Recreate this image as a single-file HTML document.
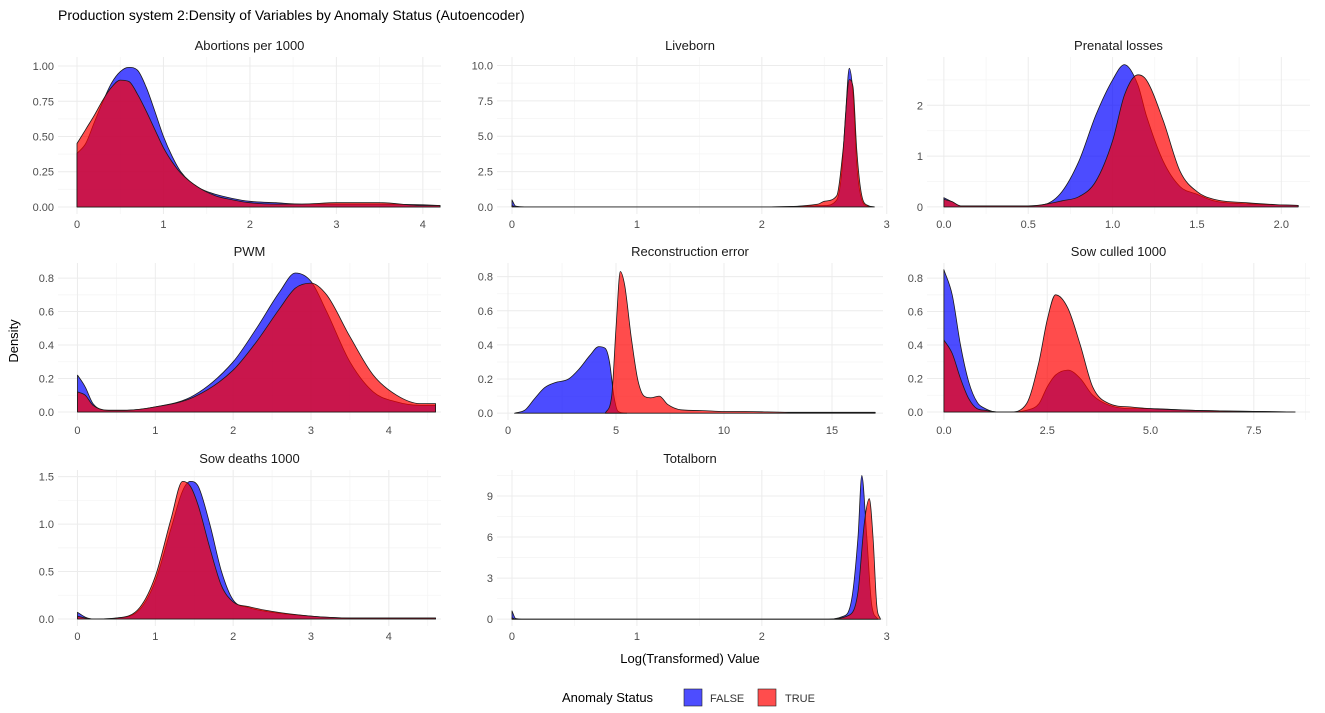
<!DOCTYPE html>
<html><head><meta charset="utf-8">
<style>
html,body{margin:0;padding:0;background:#fff;}
svg{display:block;font-family:"Liberation Sans",Arial,sans-serif;}
.tick{font-size:11px;fill:#4d4d4d;}
.strip{font-size:13px;fill:#1a1a1a;}
</style></head>
<body>
<svg id="chart" width="1325" height="713" viewBox="0 0 1325 713">
<text x="58" y="20" font-size="14" fill="#000">Production system 2:Density of Variables by Anomaly Status (Autoencoder)</text>
<text transform="translate(18,341) rotate(-90)" text-anchor="middle" font-size="13" fill="#000">Density</text>
<text x="690" y="663" text-anchor="middle" font-size="13" fill="#000">Log(Transformed) Value</text>
<g>
<text x="562" y="702" font-size="13" fill="#000">Anomaly Status</text>
<rect x="684" y="689" width="18" height="17" fill="rgb(77,77,255)" stroke="#222" stroke-width="0.6"/>
<text x="710" y="702" font-size="11" fill="#333">FALSE</text>
<rect x="758" y="689" width="18" height="17" fill="rgb(255,77,77)" stroke="#222" stroke-width="0.6"/>
<text x="785" y="702" font-size="11" fill="#333">TRUE</text>
</g>
<g id="panels"></g>
</svg>
<script>
// ---- data ----
const panelTitles = ["Abortions per 1000","Liveborn","Prenatal losses","PWM","Reconstruction error","Sow culled 1000","Sow deaths 1000","Totalborn"];

const abortX = [0,0.1,0.2,0.3,0.4,0.5,0.6,0.7,0.8,0.9,1.0,1.1,1.2,1.4,1.6,1.8,2.0,2.3,2.6,3.0,3.5,4.0,4.2];
const abortFalse = [0.38,0.45,0.6,0.75,0.88,0.96,0.99,0.97,0.85,0.68,0.5,0.36,0.25,0.14,0.09,0.06,0.04,0.03,0.02,0.02,0.02,0.015,0.01];
const abortTrue = [0.45,0.55,0.65,0.76,0.85,0.9,0.89,0.8,0.68,0.55,0.42,0.32,0.24,0.14,0.08,0.05,0.03,0.02,0.02,0.03,0.03,0.01,0.01];

const liveXF = [0,0.03,0.1,2.0,2.5,2.6,2.64,2.67,2.7,2.73,2.76,2.8,2.85,2.9];
const liveFalse = [0.5,0.05,0,0,0.1,0.5,2.5,6.5,9.8,8,3,0.5,0.05,0];
const liveXT = [0,0.03,0.1,2.0,2.45,2.5,2.6,2.65,2.7,2.73,2.76,2.8,2.85,2.9];
const liveTrue = [0.1,0,0,0,0.2,0.4,0.8,4,9,8.5,4,0.8,0.1,0];

const prenX = [0,0.05,0.1,0.5,0.6,0.7,0.8,0.9,1.0,1.07,1.15,1.2,1.3,1.4,1.5,1.6,1.8,2.0,2.1];
const prenFalse = [0.18,0.1,0.02,0.02,0.05,0.3,0.9,1.8,2.5,2.8,2.4,1.8,0.9,0.4,0.25,0.12,0.06,0.04,0.03];
const prenTrue = [0.15,0.1,0.02,0.02,0.05,0.12,0.2,0.5,1.3,2.2,2.6,2.5,1.7,0.7,0.3,0.15,0.08,0.04,0.03];

const pwmX = [0,0.1,0.2,0.4,0.6,1,1.5,2,2.3,2.6,2.8,3,3.2,3.5,3.8,4.1,4.4,4.6];
const pwmFalse = [0.22,0.15,0.05,0.01,0.01,0.03,0.1,0.3,0.5,0.72,0.83,0.78,0.6,0.3,0.12,0.06,0.04,0.04];
const pwmTrue = [0.12,0.1,0.04,0.01,0.01,0.03,0.09,0.25,0.42,0.62,0.74,0.77,0.7,0.45,0.22,0.1,0.05,0.05];

const recXF = [0.3,0.8,1.2,1.7,2.2,2.8,3.3,3.8,4.2,4.5,4.7,4.9,5.1,5.5];
const recFalse = [0,0.02,0.08,0.15,0.18,0.2,0.26,0.34,0.39,0.38,0.3,0.1,0.01,0];
const recXT = [4.5,4.8,5.0,5.2,5.4,5.7,6.0,6.3,6.6,7.0,7.4,8,9,10,11,13,15,17];
const recTrue = [0,0.1,0.5,0.83,0.75,0.45,0.2,0.1,0.09,0.1,0.05,0.02,0.015,0.01,0.01,0.005,0.005,0.005];

const culX = [0,0.2,0.4,0.6,0.8,1.0,1.3,1.6,2,2.3,2.5,2.7,3.0,3.3,3.6,4,4.5,5,6,7,8.5];
const culFalse = [0.85,0.7,0.4,0.18,0.06,0.02,0,0,0.01,0.05,0.15,0.22,0.25,0.2,0.1,0.04,0.02,0.02,0.01,0.005,0];
const culTrue = [0.43,0.35,0.2,0.08,0.02,0.01,0,0,0.05,0.3,0.55,0.7,0.62,0.4,0.15,0.05,0.03,0.02,0.01,0.005,0];

const deathX = [0,0.1,0.2,0.5,0.8,1.0,1.2,1.35,1.45,1.55,1.7,1.85,2.0,2.2,2.5,3,3.5,4,4.6];
const deathFalse = [0.07,0.02,0,0.01,0.1,0.4,0.95,1.35,1.45,1.4,1.0,0.5,0.2,0.12,0.07,0.03,0.01,0.01,0.01];
const deathTrue = [0.03,0.01,0,0.01,0.12,0.45,1.05,1.45,1.4,1.2,0.75,0.35,0.18,0.13,0.08,0.03,0.01,0.01,0.01];

const totXF = [0,0.03,0.1,2.5,2.65,2.72,2.77,2.8,2.84,2.88,2.93];
const totFalse = [0.6,0.05,0,0,0.2,1.5,6,10.5,6,1,0];
const totXT = [0,0.03,0.1,2.5,2.7,2.77,2.82,2.86,2.89,2.92,2.95];
const totTrue = [0.1,0,0,0,0.3,2,7,8.8,6,1,0];

const xTicksList = [[0,1,2,3,4],[0,1,2,3],[0,0.5,1,1.5,2],[0,1,2,3,4],[0,5,10,15],[0,2.5,5,7.5],[0,1,2,3,4],[0,1,2,3]];
const xTickLabels = [["0","1","2","3","4"],["0","1","2","3"],["0.0","0.5","1.0","1.5","2.0"],["0","1","2","3","4"],["0","5","10","15"],["0.0","2.5","5.0","7.5"],["0","1","2","3","4"],["0","1","2","3"]];
const yTicksList = [[0,0.25,0.5,0.75,1],[0,2.5,5,7.5,10],[0,1,2],[0,0.2,0.4,0.6,0.8],[0,0.2,0.4,0.6,0.8],[0,0.2,0.4,0.6,0.8],[0,0.5,1,1.5],[0,3,6,9]];
const yTickLabels = [["0.00","0.25","0.50","0.75","1.00"],["0.0","2.5","5.0","7.5","10.0"],["0","1","2"],["0.0","0.2","0.4","0.6","0.8"],["0.0","0.2","0.4","0.6","0.8"],["0.0","0.2","0.4","0.6","0.8"],["0.0","0.5","1.0","1.5"],["0","3","6","9"]];

// ---- layout (not data) ----
const cols=[[58,441],[497,883],[927,1310]];
const rows=[[57,214],[263,420],[470,626]];
const xDom=[[-0.22,4.21],[-0.12,2.97],[-0.1,2.17],[-0.25,4.67],[-0.51,17.36],[-0.41,8.86],[-0.25,4.67],[-0.12,2.97]];
const yDom=[[-0.05,1.064],[-0.5,10.6],[-0.14,2.95],[-0.048,0.89],[-0.04,0.88],[-0.048,0.89],[-0.074,1.57],[-0.5,10.9]];
const series=[
 [[abortX,abortFalse],[abortX,abortTrue]],
 [[liveXF,liveFalse],[liveXT,liveTrue]],
 [[prenX,prenFalse],[prenX,prenTrue]],
 [[pwmX,pwmFalse],[pwmX,pwmTrue]],
 [[recXF,recFalse],[recXT,recTrue]],
 [[culX,culFalse],[culX,culTrue]],
 [[deathX,deathFalse],[deathX,deathTrue]],
 [[totXF,totFalse],[totXT,totTrue]]
];
const NS="http://www.w3.org/2000/svg";
const root=document.getElementById('panels');
function mk(tag,attrs,parent){const e=document.createElementNS(NS,tag);for(const k in attrs)e.setAttribute(k,attrs[k]);parent.appendChild(e);return e;}
function slug(s){return s.toLowerCase().replace(/[^a-z0-9]+/g,'-').replace(/-$/,'');}
// monotone cubic interpolation path through pixel points
function smoothPath(pts){
  const n=pts.length; if(n<2) return '';
  const dx=[],m=[],t=[];
  for(let i=0;i<n-1;i++){dx[i]=pts[i+1][0]-pts[i][0]; m[i]=dx[i]===0?0:(pts[i+1][1]-pts[i][1])/dx[i];}
  t[0]=m[0]; t[n-1]=m[n-2];
  for(let i=1;i<n-1;i++){ t[i]=(m[i-1]*m[i]<=0)?0:(m[i-1]+m[i])/2; }
  for(let i=0;i<n-1;i++){ if(m[i]===0){t[i]=0;t[i+1]=0;continue;}
    const a=t[i]/m[i], b=t[i+1]/m[i], s=a*a+b*b;
    if(s>9){const tau=3/Math.sqrt(s); t[i]=tau*a*m[i]; t[i+1]=tau*b*m[i];} }
  let d='';
  for(let i=0;i<n-1;i++){const h=dx[i]/3;
    d+=' C'+(pts[i][0]+h).toFixed(1)+','+(pts[i][1]+t[i]*h).toFixed(1)+' '+(pts[i+1][0]-h).toFixed(1)+','+(pts[i+1][1]-t[i+1]*h).toFixed(1)+' '+pts[i+1][0].toFixed(1)+','+pts[i+1][1].toFixed(1);}
  return d;
}

panelTitles.forEach((title,i)=>{
  const c=cols[i%3], r=rows[Math.floor(i/3)];
  const sx=v=>c[0]+(v-xDom[i][0])/(xDom[i][1]-xDom[i][0])*(c[1]-c[0]);
  const sy=v=>r[1]-(v-yDom[i][0])/(yDom[i][1]-yDom[i][0])*(r[1]-r[0]);
  const g=mk('g',{},root);
  
  
  const xt=xTicksList[i], yt=yTicksList[i];
  const xs=xt[1]-xt[0], ys=yt[1]-yt[0];
  for(let v=xt[0]-xs/2; v<=xDom[i][1]; v+=xs){ if(v<xDom[i][0])continue; const x=sx(v);
    const l=mk('line',{x1:x,x2:x,y1:r[0],y2:r[1],stroke:'#f5f5f5','stroke-width':0.8},g);
    
    }
  for(let v=yt[0]-ys/2; v<=yDom[i][1]; v+=ys){ if(v<yDom[i][0])continue; const y=sy(v);
    const l=mk('line',{x1:c[0],x2:c[1],y1:y,y2:y,stroke:'#f5f5f5','stroke-width':0.8},g);
    
    }
  xt.forEach((v,k)=>{const x=sx(v);
    const l=mk('line',{x1:x,x2:x,y1:r[0],y2:r[1],stroke:'#ececec','stroke-width':1},g);
    
    
    const t=mk('text',{x:x,y:r[1]+14,'text-anchor':'middle',class:'tick'},g);
    t.textContent=xTickLabels[i][k];
    
    });
  yt.forEach((v,k)=>{const y=sy(v);
    const l=mk('line',{x1:c[0],x2:c[1],y1:y,y2:y,stroke:'#ececec','stroke-width':1},g);
    
    
    const t=mk('text',{x:c[0]-4,y:y+4,'text-anchor':'end',class:'tick'},g);
    t.textContent=yTickLabels[i][k];
    
    });
  const st=mk('text',{x:(c[0]+c[1])/2,y:r[0]-7,'text-anchor':'middle',class:'strip'},g);
  st.textContent=title;
  
  
  const fills=['rgba(0,0,255,0.7)','rgba(255,0,0,0.7)'];
  const names=['density-false','density-true'];
  series[i].forEach((s,j)=>{
    const xsA=s[0], ysA=s[1];
    const pts=xsA.map((x,k)=>[sx(x),sy(ysA[k])]);
    const base=sy(0).toFixed(1);
    let d='M'+pts[0][0].toFixed(1)+','+base+' L'+pts[0][0].toFixed(1)+','+pts[0][1].toFixed(1);
    d+=smoothPath(pts);
    d+=' L'+pts[pts.length-1][0].toFixed(1)+','+base+' Z';
    const p=mk('path',{d:d,fill:fills[j],stroke:'#1a1a1a','stroke-width':0.8,'stroke-linejoin':'round'},g);
    
    
  });
});
</script>
</body></html>
